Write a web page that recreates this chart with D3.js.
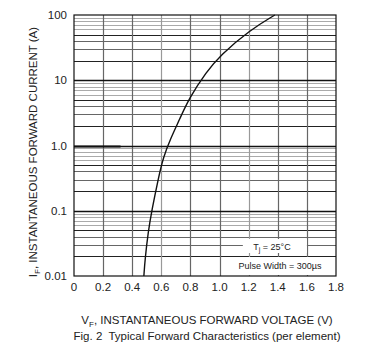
<!doctype html>
<html>
<head>
<script type='text/javascript' src='https://d3js.org/d3.v7.min.js'></script>
<style>
body { margin:0; background:#fff; }
text { font-family: 'Liberation Sans', Arial, sans-serif; fill:#222; }
</style>
</head>
<body>
<script>
var width = 384, height = 354;
var margin = {left:74, top:15, right:48, bottom:78};

// curve: forward current (A) and forward voltage (V)
var currentA = [0.01, 0.018, 0.048, 0.1, 0.31, 0.65, 1.3, 2.5, 5.3, 13.5, 24, 59, 100];
var voltageV = [0.48, 0.488, 0.51, 0.534, 0.579, 0.612, 0.665, 0.725, 0.79, 0.911, 1.003, 1.209, 1.38];
var xTicks = [0, 0.2, 0.4, 0.6, 0.8, 1.0, 1.2, 1.4, 1.6, 1.8];
var yTicks = [0.01, 0.1, 1, 10, 100];
var yTickLabels = ['0.01', '0.1', '1.0', '10', '100'];

var svg = d3.select('body').append('svg').attr('width', width).attr('height', height);

var x = d3.scaleLinear().domain([0, 1.8]).range([margin.left, width - margin.right]);
var y = d3.scaleLog().domain([0.01, 100]).range([height - margin.bottom, margin.top]);

// horizontal grid: every 2..9 within each decade
var hLines = [];
[0.01, 0.1, 1, 10].forEach(function(dec) {
  for (var k = 2; k <= 9; k++) hLines.push(dec * k);
});
svg.append('g').selectAll('line').data(hLines).join('line')
  .attr('x1', x(0)).attr('x2', x(1.8))
  .attr('y1', function(d){ return Math.round(y(d)) + 0.5; })
  .attr('y2', function(d){ return Math.round(y(d)) + 0.5; })
  .attr('stroke', function(d){
    var m = Math.round(d / Math.pow(10, Math.floor(Math.log10(d) + 1e-9)));
    return (m == 2 || m == 5) ? '#222' : (m <= 4 ? '#666' : '#aaa');
  })
  .attr('stroke-width', 1);

// vertical grid
svg.append('g').selectAll('line').data(xTicks.slice(1, -1)).join('line')
  .attr('x1', function(d){ return Math.round(x(d)) + 0.5; })
  .attr('x2', function(d){ return Math.round(x(d)) + 0.5; })
  .attr('y1', y(100)).attr('y2', y(0.01))
  .attr('stroke', function(d, i){ return (i % 3 == 2) ? '#999' : '#666'; })
  .attr('stroke-width', 1.2);

// decade lines
svg.append('g').selectAll('line').data([0.1, 1, 10]).join('line')
  .attr('x1', x(0)).attr('x2', x(1.8))
  .attr('y1', function(d){ return Math.round(y(d)) + 0.5; })
  .attr('y2', function(d){ return Math.round(y(d)) + 0.5; })
  .attr('stroke', '#111').attr('stroke-width', 1.3);
svg.append('line').attr('x1', x(0)).attr('x2', x(0.32))
  .attr('y1', Math.round(y(1)) + 0.5).attr('y2', Math.round(y(1)) + 0.5)
  .attr('stroke', '#111').attr('stroke-width', 2);

// frame
svg.append('rect')
  .attr('x', x(0)).attr('y', y(100))
  .attr('width', x(1.8) - x(0)).attr('height', y(0.01) - y(100))
  .attr('fill', 'none').attr('stroke', '#111').attr('stroke-width', 1.2);

// legend boxes
svg.append('rect').attr('x', x(1.16)).attr('y', 239).attr('width', x(1.6) - x(1.16)).attr('height', 14).attr('fill', '#fff');
svg.append('rect').attr('x', x(1.1)).attr('y', 257).attr('width', x(1.8) - x(1.1) - 1).attr('height', y(0.01) - 258).attr('fill', '#fff');
var tj = svg.append('text').attr('x', 272).attr('y', 250).attr('text-anchor', 'middle').style('font-size', '9px');
tj.append('tspan').text('T');
tj.append('tspan').attr('dy', 2).style('font-size', '7px').text('j');
tj.append('tspan').attr('dy', -2).text(' = 25°C');
svg.append('text').attr('x', 280).attr('y', 269).attr('text-anchor', 'middle').style('font-size', '9px').text('Pulse Width = 300µs');

// forward characteristic curve
var pts = currentA.map(function(c, i){ return [voltageV[i], c]; });
var line = d3.line()
  .x(function(d){ return x(d[0]); })
  .y(function(d){ return y(d[1]); })
  .curve(d3.curveBasis);
svg.append('path').datum(pts).attr('d', line)
  .attr('fill', 'none').attr('stroke', '#111').attr('stroke-width', 1.4);

// tick labels
svg.append('g').selectAll('text').data(xTicks).join('text')
  .attr('x', function(d){ return x(d); })
  .attr('y', y(0.01) + 15)
  .attr('text-anchor', 'middle')
  .style('font-size', '11.5px')
  .text(function(d){ return d == 0 ? '0' : d.toFixed(1); });

svg.append('g').selectAll('text').data(yTicks).join('text')
  .attr('x', x(0) - 7)
  .attr('y', function(d){ return y(d) + 4; })
  .attr('text-anchor', 'end')
  .style('font-size', '11.5px')
  .text(function(d, i){ return yTickLabels[i]; });

// axis titles
var xt = svg.append('text').attr('x', 207).attr('y', 324).attr('text-anchor', 'middle').style('font-size', '11.5px');
xt.append('tspan').text('V');
xt.append('tspan').attr('dy', 3).style('font-size', '8px').text('F');
xt.append('tspan').attr('dy', -3).text(', INSTANTANEOUS FORWARD VOLTAGE (V)');

svg.append('text').attr('x', 207).attr('y', 340).attr('text-anchor', 'middle').style('font-size', '11.5px')
  .text('Fig. 2\u00a0 Typical Forward Characteristics (per element)');

var yt = svg.append('text').attr('transform', 'translate(37,152) rotate(-90)')
  .attr('text-anchor', 'middle').style('font-size', '11.5px');
yt.append('tspan').text('I');
yt.append('tspan').attr('dy', 3).style('font-size', '8px').text('F');
yt.append('tspan').attr('dy', -3).text(', INSTANTANEOUS FORWARD CURRENT (A)');
</script>
</body>
</html>
